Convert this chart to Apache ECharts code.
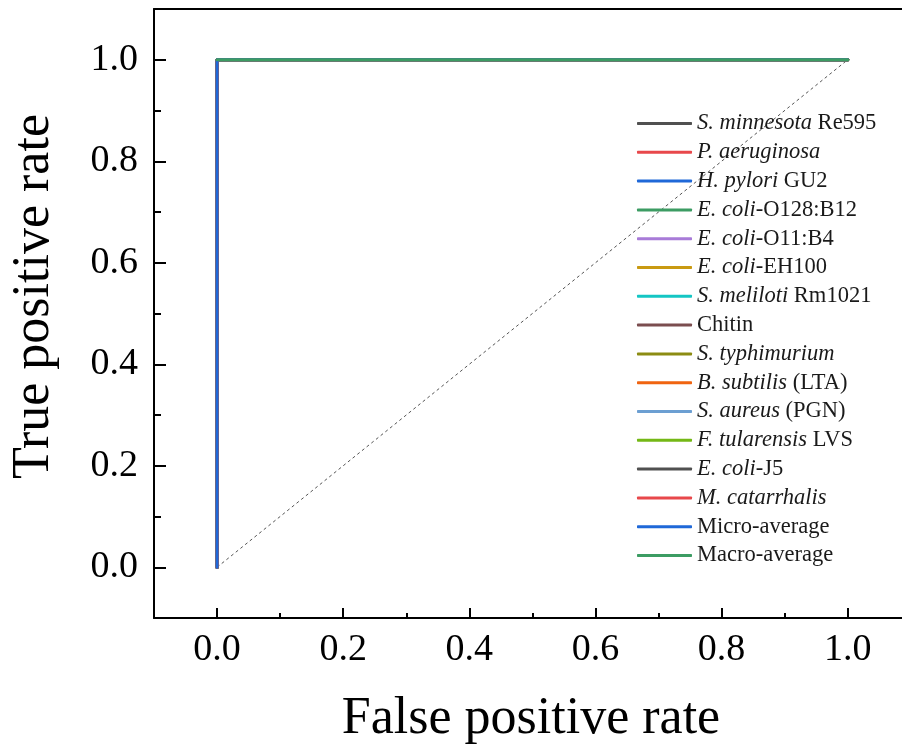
<!DOCTYPE html>
<html>
<head>
<meta charset="utf-8">
<script src="https://cdn.jsdelivr.net/npm/echarts@6/dist/echarts.min.js"></script>
<style>
  html, body { margin: 0; padding: 0; background: #fff; }
  #roc { width: 902px; height: 751px; }
</style>
</head>
<body>
<div id="roc"></div>
<script>
// class names as shown in the legend, and the part of each written in italics
var names = ['S. minnesota Re595', 'P. aeruginosa', 'H. pylori GU2', 'E. coli-O128:B12',
    'E. coli-O11:B4', 'E. coli-EH100', 'S. meliloti Rm1021', 'Chitin', 'S. typhimurium',
    'B. subtilis (LTA)', 'S. aureus (PGN)', 'F. tularensis LVS', 'E. coli-J5',
    'M. catarrhalis', 'Micro-average', 'Macro-average'];
var italics = ['S. minnesota', 'P. aeruginosa', 'H. pylori', 'E. coli', 'E. coli', 'E. coli',
    'S. meliloti', '', 'S. typhimurium', 'B. subtilis', 'S. aureus', 'F. tularensis',
    'E. coli', 'M. catarrhalis', '', ''];
var colors = ['#505050', '#e8484b', '#1f68d8', '#3c9c63', '#a87bd8', '#c99a12', '#14c6c4',
    '#7b4d4f', '#8c8c12', '#f06410', '#6c9fd2', '#74b816', '#505050', '#e8484b',
    '#1f68d8', '#3c9c63'];

// ROC points (false positive rate, true positive rate)
var classFpr = [0, 0, 1];
var classTpr = [0, 1, 1];
var macroFpr = [0, 1];
var macroTpr = [1, 1];
var chanceFpr = [0, 1];
var chanceTpr = [0, 1];

var majorTicks = [0, 0.2, 0.4, 0.6, 0.8, 1.0];
var minorTicks = [0.1, 0.3, 0.5, 0.7, 0.9];

function toPoints(fpr, tpr) {
    var pts = [];
    for (var i = 0; i < fpr.length; i++) {
        pts.push([fpr[i], tpr[i]]);
    }
    return pts;
}

function legendLabel(name) {
    var idx = names.indexOf(name);
    var it = italics[idx];
    if (!it) return name;
    return '{i|' + it + '}' + name.slice(it.length);
}

var font = 'Liberation Serif';
var series = [];
series.push({
    name: 'chance',
    type: 'line',
    symbol: 'none',
    silent: true,
    data: toPoints(chanceFpr, chanceTpr),
    lineStyle: { color: '#555', width: 1, type: [3, 3] },
    z: 1
});
for (var i = 0; i < names.length; i++) {
    var isMacro = names[i] === 'Macro-average';
    series.push({
        name: names[i],
        type: 'line',
        symbol: 'none',
        data: isMacro ? toPoints(macroFpr, macroTpr) : toPoints(classFpr, classTpr),
        lineStyle: { color: colors[i], width: 3, cap: 'round', join: 'round' },
        itemStyle: { color: colors[i] },
        z: 2
    });
}

// the plot is cut off on the right in the original, just past 1.08
function axisSet(dim) {
    var inX = dim === 'x';
    var lo = -0.1, hi = inX ? 1.086 : 1.1;
    var main = {
        type: 'value',
        min: lo,
        max: hi,
        position: inX ? 'bottom' : 'left',
        axisLine: { onZero: false, lineStyle: { color: '#000', width: 2 } },
        axisTick: {
            customValues: majorTicks,
            inside: true,
            length: inX ? 10 : 12,
            lineStyle: { color: '#000', width: 2 }
        },
        axisLabel: {
            customValues: majorTicks,
            formatter: function (v) { return v.toFixed(1); },
            color: '#000',
            fontFamily: font,
            fontSize: 38,
            margin: inX ? 13 : 16
        },
        splitLine: { show: false },
        name: inX ? 'False positive rate' : 'True positive rate',
        nameLocation: 'middle',
        nameGap: inX ? 75 : 94,
        nameTextStyle: {
            color: '#000',
            fontFamily: font,
            fontSize: 52,
            padding: inX ? [0, 0, 0, 6] : [0, 0, 0, 34]
        }
    };
    var minor = {
        type: 'value',
        min: lo,
        max: hi,
        position: inX ? 'bottom' : 'left',
        axisLine: { show: false, onZero: false },
        axisTick: {
            customValues: minorTicks,
            inside: true,
            length: inX ? 5 : 7,
            lineStyle: { color: '#000', width: 2 }
        },
        axisLabel: { show: false },
        splitLine: { show: false }
    };
    var axes = [main, minor];
    if (inX) {
        // top frame line
        axes.push({
            type: 'value',
            min: lo,
            max: hi,
            position: 'top',
            axisLine: { onZero: false, lineStyle: { color: '#000', width: 2 } },
            axisTick: { show: false },
            axisLabel: { show: false },
            splitLine: { show: false }
        });
    }
    return axes;
}

var rocChart = echarts.init(document.getElementById('roc'));
var rocOptions = {
    animation: false,
    backgroundColor: '#fff',
    textStyle: { fontFamily: font },
    grid: {
        left: 154,
        top: 9,
        right: 0,
        bottom: 133,
        containLabel: false
    },
    legend: {
        data: names,
        orient: 'vertical',
        left: 632,
        top: 107,
        icon: 'roundRect',
        itemWidth: 55,
        itemHeight: 3,
        itemGap: 5.8,
        formatter: legendLabel,
        textStyle: {
            color: '#1a1a1a',
            fontFamily: font,
            fontSize: 22.5,
            rich: {
                i: { fontStyle: 'italic', fontFamily: font, fontSize: 22.5, color: '#1a1a1a' }
            }
        }
    },
    xAxis: axisSet('x'),
    yAxis: axisSet('y'),
    series: series
};
rocChart.setOption(rocOptions);
</script>
</body>
</html>
